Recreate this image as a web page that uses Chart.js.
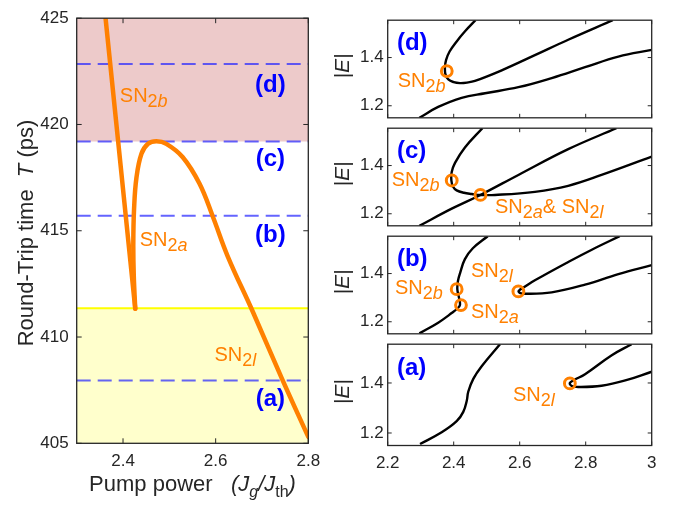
<!DOCTYPE html>
<html><head><meta charset="utf-8">
<script src="https://cdn.jsdelivr.net/npm/chart.js@4.4.0/dist/chart.umd.min.js"></script>
<style>
html,body{margin:0;padding:0;background:#fff;}
#wrap{position:relative;width:673px;height:506px;overflow:hidden;background:#fff;}
canvas{position:absolute;}
</style></head><body><div id="wrap">
<canvas id="cL" style="left:0;top:0" width="330" height="506"></canvas>
<canvas id="cD" style="left:330px;top:6px" width="343" height="126"></canvas>
<canvas id="cC" style="left:330px;top:114px" width="343" height="126"></canvas>
<canvas id="cB" style="left:330px;top:222px" width="343" height="126"></canvas>
<canvas id="cA" style="left:330px;top:330px" width="343" height="176"></canvas>
</div>
<script>
const FONT = '"Liberation Sans", Arial, Helvetica, sans-serif';
const INK = '#262626';
const ORANGE = '#FF8000';
const BLUE = '#0000FF';

// ---------- Left panel data ----------
const leftXTicks = [2.4, 2.6, 2.8];
const leftXTickLabels = ['2.4', '2.6', '2.8'];
const leftYTicks = [405, 410, 415, 420, 425];
const leftYTickLabels = ['405', '410', '415', '420', '425'];
const sn2bLine = [[2.3623, 425], [2.3895, 419.2], [2.4264, 411.33]];
const sn2aCurve = [[2.4264, 411.33], [2.4232, 412.9], [2.4222, 414.4], [2.4238, 416.0], [2.4290, 417.5], [2.4398, 418.62],
  [2.4540, 419.09], [2.4720, 419.21], [2.4935, 419.09], [2.5290, 418.46], [2.5650, 417.22], [2.5940, 415.66],
  [2.6260, 413.8], [2.6800, 411.2], [2.7440, 408.0], [2.8000, 405.3]];
const pinkBand = [419.2, 425];
const yellowBand = [405, 411.35];
const dashLevels = [422.85, 419.2, 415.7, 407.95];
const caseLetters = ['(d)', '(c)', '(b)', '(a)'];
const caseLetterY = [421.85, 418.34, 414.78, 407.07];
const leftSnLabels = [
  {x: 2.3931, y: 421.06, s: 'b'},
  {x: 2.4361, y: 414.30, s: 'a'},
  {x: 2.5974, y: 408.89, s: 'l'}
];

// ---------- Right panels data ----------
const rightXTicks = [2.2, 2.4, 2.6, 2.8, 3.0];
const rightXTickLabels = ['2.2', '2.4', '2.6', '2.8', '3'];
const rightYTicks = [1.2, 1.4];
const rightYTickLabels = ['1.2', '1.4'];

const dFold = [[2.466,1.555],[2.435,1.51],[2.409,1.467],[2.3875,1.425],[2.377,1.39],[2.3735,1.36],[2.375,1.33],[2.3837,1.309],
  [2.40,1.298],[2.419,1.294],[2.44,1.296],[2.4645,1.303],[2.5455,1.347],[2.646,1.410],[2.747,1.474],[2.882,1.555]];
const dLower = [[2.296,1.15],[2.353,1.195],[2.424,1.233],[2.495,1.252],[2.596,1.277],[2.697,1.315],[2.798,1.360],[2.899,1.404],[3.0,1.432]];
const dSn = [[2.379,1.344]];

const cFold = [[2.487,1.555],[2.434,1.475],[2.404,1.411],[2.394,1.373],[2.393,1.338],[2.398,1.312],[2.409,1.297],[2.431,1.287],
  [2.455,1.282],[2.481,1.278],[2.525,1.278],[2.646,1.291],[2.747,1.316],[2.848,1.361],[3.0,1.437]];
const cLine = [[2.296,1.15],[2.394,1.221],[2.481,1.278],[2.596,1.361],[2.747,1.468],[2.893,1.555]];
const cSn = [[2.394,1.338],[2.481,1.278]];

const bLeft = [[2.296,1.152],[2.353,1.196],[2.395,1.237],[2.412,1.256],[2.419,1.27],[2.416,1.30],[2.411,1.335],[2.413,1.37],
  [2.420,1.405],[2.434,1.460],[2.458,1.505],[2.503,1.555]];
const bRight = [[2.903,1.555],[2.82,1.50],[2.747,1.448],[2.646,1.372],[2.615,1.345],[2.597,1.328],[2.60,1.320],[2.616,1.316],
  [2.697,1.322],[2.798,1.354],[2.899,1.398],[3.0,1.435]];
const bSn = [[2.409,1.335],[2.422,1.269],[2.596,1.326]];

const aLeft = [[2.298,1.156],[2.3636,1.2026],[2.409,1.247],[2.429,1.2845],[2.4394,1.328],[2.4443,1.366],[2.4594,1.4166],[2.4848,1.4668],[2.5403,1.555]];
const aRight = [[2.939,1.555],[2.879,1.511],[2.798,1.435],[2.765,1.412],[2.752,1.40],[2.758,1.388],[2.778,1.384],[2.848,1.389],[2.92,1.41],[3.0,1.445]];
const aSn = [[2.752,1.398]];

const dLabels = [{x: 2.2303, y: 1.2772, s: 'b'}];
const cLabels = [{x: 2.2121, y: 1.3163, s: 'b'}, {x: 2.5252, y: 1.2023, s: 'a&l'}];
const bLabels = [{x: 2.2221, y: 1.3158, s: 'b'}, {x: 2.4524, y: 1.3849, s: 'l'}, {x: 2.4524, y: 1.2151, s: 'a'}];
const aLabels = [{x: 2.5797, y: 1.3283, s: 'l'}];
const panelLetterPos = [2.228, 1.46];

// ---------- helpers ----------
const pairs = arr => arr.map(p => ({x: p[0], y: p[1]}));
function snParts(s) {
  if (s === 'a&l') return [{t:'SN'},{t:'2',sub:1},{t:'a',sub:1,it:1},{t:'& SN'},{t:'2',sub:1},{t:'l',sub:1,it:1}];
  return [{t:'SN'},{t:'2',sub:1},{t:s,sub:1,it:1}];
}
function drawRich(ctx, parts, x, y, o) {
  const size = o.size, subSize = o.subSize || size * 0.88, subDy = o.subDy != null ? o.subDy : size * 0.27;
  const f = p => `${p.it ? 'italic ' : ''}${p.b || o.bold ? 'bold ' : ''}${p.sub ? subSize : size}px ${FONT}`;
  let w = 0;
  parts.forEach(p => { ctx.font = f(p); w += ctx.measureText(p.t).width; });
  let cx = o.align === 'center' ? x - w / 2 : (o.align === 'right' ? x - w : x);
  ctx.save();
  ctx.fillStyle = o.color || INK;
  ctx.textAlign = 'left';
  ctx.textBaseline = o.baseline || 'alphabetic';
  parts.forEach(p => { ctx.font = f(p); ctx.fillText(p.t, cx, y + (p.sub ? subDy : 0)); cx += ctx.measureText(p.t).width; });
  ctx.restore();
}
function drawFrame(chart, xt, yt, tl) {
  const {ctx, chartArea: a, scales: {x, y}} = chart;
  ctx.save();
  ctx.strokeStyle = INK; ctx.lineWidth = 1;
  ctx.beginPath();
  xt.forEach(v => { const px = x.getPixelForValue(v);
    ctx.moveTo(px, a.bottom); ctx.lineTo(px, a.bottom - tl); ctx.moveTo(px, a.top); ctx.lineTo(px, a.top + tl); });
  yt.forEach(v => { const py = y.getPixelForValue(v);
    ctx.moveTo(a.left, py); ctx.lineTo(a.left + tl, py); ctx.moveTo(a.right, py); ctx.lineTo(a.right - tl, py); });
  ctx.stroke();
  ctx.lineWidth = 1.3;
  ctx.strokeRect(a.left, a.top, a.right - a.left, a.bottom - a.top);
  ctx.restore();
}
const xTitleParts = [{t:'Pump power   '},{t:'(J',it:1},{t:'g',it:1,sub:1},{t:'/J',it:1},{t:'th',sub:1},{t:')',it:1}];
function drawXTitle(chart) {
  const a = chart.chartArea;
  drawRich(chart.ctx, xTitleParts, (a.left + a.right) / 2, 491, {size: 22, subSize: 16, subDy: 6, align: 'center'});
}
const baseOpts = (pad) => ({
  responsive: false, animation: false, events: [], devicePixelRatio: 1,
  layout: {padding: pad},
  plugins: {legend: {display: false}, tooltip: {enabled: false}}
});
const tickFont = {family: FONT, size: 17};

// ---------- Left chart ----------
const leftDecor = {
  id: 'leftDecor',
  afterDatasetsDraw(chart) { drawFrame(chart, leftXTicks, leftYTicks, 5); },
  afterDraw(chart) {
    const {ctx, scales: {x, y}} = chart;
    caseLetters.forEach((t, i) => drawRich(ctx, [{t}], x.getPixelForValue(2.718), y.getPixelForValue(caseLetterY[i]),
      {size: 24, bold: true, color: BLUE, align: 'center', baseline: 'middle'}));
    leftSnLabels.forEach(l => drawRich(ctx, snParts(l.s), x.getPixelForValue(l.x), y.getPixelForValue(l.y),
      {size: 20, subSize: 18, subDy: 5, color: ORANGE}));
    ctx.save(); ctx.translate(33, 233); ctx.rotate(-Math.PI / 2);
    drawRich(ctx, [{t:'Round-Trip time  '},{t:'T',it:1},{t:' (ps)'}], 0, 0, {size: 22, align: 'center'});
    ctx.restore();
    drawXTitle(chart);
  }
};
const leftDatasets = [
  {data: pairs(sn2bLine), borderColor: ORANGE, borderWidth: 4.5, tension: 0, pointRadius: 0, order: 0, borderJoinStyle: 'round', borderCapStyle: 'round'},
  {data: pairs(sn2aCurve), borderColor: ORANGE, borderWidth: 4.5, tension: 0.4, pointRadius: 0, order: 0, borderJoinStyle: 'round', borderCapStyle: 'round'},
  ...dashLevels.map(v => ({data: [{x: 2.3, y: v}, {x: 2.8, y: v}], borderColor: 'rgba(40,40,255,0.72)', borderWidth: 2,
    borderDash: [14, 7], pointRadius: 0, order: 1, fill: false})),
  {data: [{x: 2.3, y: yellowBand[1]}, {x: 2.8, y: yellowBand[1]}], borderColor: '#FFFF00', borderWidth: 2, pointRadius: 0,
    fill: 'start', backgroundColor: '#FFFFCC', order: 2},
  {data: [{x: 2.3, y: pinkBand[0]}, {x: 2.8, y: pinkBand[0]}], borderColor: 'rgba(0,0,0,0)', borderWidth: 1, pointRadius: 0,
    fill: 'end', backgroundColor: '#EDCACA', order: 3}
];
new Chart(document.getElementById('cL'), {
  type: 'line',
  data: {datasets: leftDatasets},
  plugins: [leftDecor],
  options: Object.assign(baseOpts({left: 0, top: 15, right: 21.7, bottom: 0}), {
    scales: {
      x: {type: 'linear', min: 2.3, max: 2.8,
        afterBuildTicks: s => { s.ticks = leftXTicks.map(v => ({value: v})); },
        afterFit: s => { s.height = 62.7; },
        ticks: {font: tickFont, color: INK, padding: 8, maxRotation: 0, autoSkip: false, callback: (v, i) => leftXTickLabels[i]},
        grid: {display: false, drawTicks: false}, border: {display: false}},
      y: {type: 'linear', min: 405, max: 425,
        afterBuildTicks: s => { s.ticks = leftYTicks.map(v => ({value: v})); },
        afterFit: s => { s.width = 76.7; },
        ticks: {font: tickFont, color: INK, padding: 8, autoSkip: false, callback: (v, i) => leftYTickLabels[i]},
        grid: {display: false, drawTicks: false}, border: {display: false}}
    }
  })
});

// ---------- Right charts ----------
function makeRight(id, curves, sn, labels, letter, bottom, pad) {
  const decor = {
    id: 'rd' + id,
    afterDatasetsDraw(chart) { drawFrame(chart, rightXTicks, rightYTicks, 4); },
    afterDraw(chart) {
      const {ctx, chartArea: a, scales: {x, y}} = chart;
      drawRich(ctx, [{t: letter}], x.getPixelForValue(panelLetterPos[0]), y.getPixelForValue(panelLetterPos[1]),
        {size: 24, bold: true, color: BLUE, baseline: 'middle'});
      labels.forEach(l => drawRich(ctx, snParts(l.s), x.getPixelForValue(l.x), y.getPixelForValue(l.y),
        {size: 20, subSize: 18, subDy: 5, color: ORANGE}));
      ctx.save(); ctx.translate(a.left - 44.7, (a.top + a.bottom) / 2 - 3); ctx.rotate(-Math.PI / 2);
      drawRich(ctx, [{t: '|E|', it: 1}], 0, 0, {size: 21, align: 'center', baseline: 'middle'});
      ctx.restore();
      if (bottom) drawXTitle(chart);
    }
  };
  const datasets = [
    {data: pairs(sn), showLine: false, pointRadius: 5.4, pointBorderWidth: 3, pointBorderColor: ORANGE,
      pointBackgroundColor: 'rgba(0,0,0,0)', order: 0},
    ...curves.map(c => ({data: pairs(c), borderColor: '#000', borderWidth: 2.4, pointRadius: 0, tension: 0.4,
      order: 1, clip: 0, fill: false}))
  ];
  new Chart(document.getElementById(id), {
    type: 'line',
    data: {datasets},
    plugins: [decor],
    options: Object.assign(baseOpts(pad), {
      scales: {
        x: {type: 'linear', min: 2.2, max: 3.0, display: bottom,
          afterBuildTicks: s => { s.ticks = rightXTicks.map(v => ({value: v})); },
          afterFit: s => { s.height = bottom ? 60.5 : 0; },
          ticks: {font: tickFont, color: INK, padding: 8, maxRotation: 0, autoSkip: false, callback: (v, i) => rightXTickLabels[i]},
          grid: {display: false, drawTicks: false}, border: {display: false}},
        y: {type: 'linear', min: 1.15, max: 1.555,
          afterBuildTicks: s => { s.ticks = rightYTicks.map(v => ({value: v})); },
          afterFit: s => { s.width = 57.7; },
          ticks: {font: tickFont, color: INK, padding: 4, autoSkip: false, callback: (v, i) => rightYTickLabels[i]},
          grid: {display: false, drawTicks: false}, border: {display: false}}
      }
    })
  });
}
makeRight('cD', [dFold, dLower], dSn, dLabels, '(d)', false, {left: 0, right: 21.3, top: 10, bottom: 10.5});
makeRight('cC', [cFold, cLine], cSn, cLabels, '(c)', false, {left: 0, right: 21.3, top: 10.5, bottom: 10});
makeRight('cB', [bLeft, bRight], bSn, bLabels, '(b)', false, {left: 0, right: 21.3, top: 10.5, bottom: 10});
makeRight('cA', [aLeft, aRight], aSn, aLabels, '(a)', true, {left: 0, right: 21.3, top: 10, bottom: 0});
</script>
</body></html>
